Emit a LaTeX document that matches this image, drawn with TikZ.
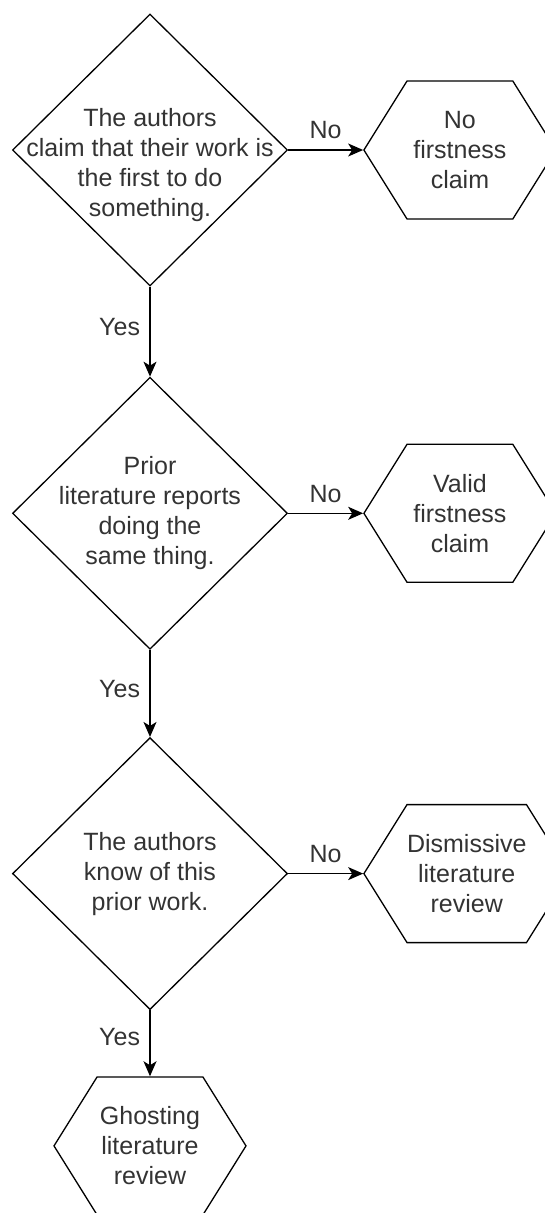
\documentclass[tikz,border=0pt]{standalone}
\usepackage{fontspec}
\setmainfont{Liberation Sans}
\usetikzlibrary{positioning,shapes.geometric,shapes.symbols,arrows.meta}
\definecolor{txtgray}{HTML}{333333}

\begin{document}
\begin{tikzpicture}[x=1pt,y=-1pt,
font=\fontsize{25}{30}\selectfont,
spm/.style={diamond,draw,line width=1.3pt,minimum width=275pt,minimum height=272pt,inner sep=0pt},
tekst/.style={label={[align=center,text=txtgray]center:#1}},
utfall/.style={signal,signal to=east and west,signal pointer angle=116,draw,line width=1.3pt,
  minimum width=192pt,minimum height=138pt,inner sep=0pt,align=center,text=txtgray},
pil/.style={-{Stealth[length=15pt,width=13pt,inset=4pt]},line width=1.3pt},
svar/.style={text=txtgray}]
\useasboundingbox (0,0) rectangle (545,1213);
\node [spm,label={[align=center,text=txtgray,yshift=-15pt]center:The authors\\claim that their work is\\the first to do\\something.}] (q1) at (150,150) {};
\node [spm,tekst={Prior\\literature reports\\doing the\\same thing.}] (q2) [below=90pt of q1] {};
\node [spm,tekst={The authors\\know of this\\prior work.}] (q3) [below=87pt of q2] {};
\node [utfall] (ingen)   [right=75pt of q1] {No\\firstness\\claim};
\node [utfall] (gyldig)  [right=75pt of q2] {Valid\\firstness\\claim};
\node [utfall] (avvis)   [right=75pt of q3] {Dismissive\\literature\\review};
\node [utfall] (ghost)   [below=66pt of q3] {Ghosting\\literature\\review};
\draw [pil] (q1.east)  -- node[svar,above=7pt] {No}  (ingen.west);
\draw [pil] (q2.east)  -- node[svar,above=7pt] {No}  (gyldig.west);
\draw [pil] (q3.east)  -- node[svar,above=7pt] {No}  (avvis.west);
\draw [pil] (q1.south) -- node[svar,left=6pt,pos=.45] {Yes} (q2.north);
\draw [pil] (q2.south) -- node[svar,left=6pt,pos=.45] {Yes} (q3.north);
\draw [pil] (q3.south) -- node[svar,left=6pt,pos=.4] {Yes} (ghost.north);
\end{tikzpicture}
\end{document}
